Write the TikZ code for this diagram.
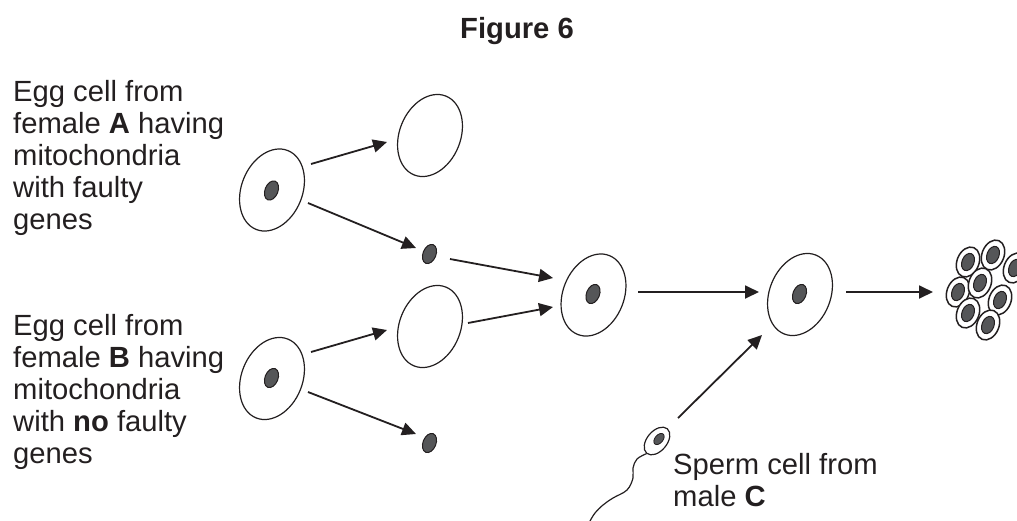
\documentclass[tikz,border=0pt]{standalone}
\usepackage{fontspec}
\setmainfont{Liberation Sans}
\usetikzlibrary{arrows.meta,shapes.geometric}
\definecolor{nuc}{RGB}{85,86,88}
\definecolor{ink}{RGB}{35,31,32}
\begin{document}
\begin{tikzpicture}[x=1pt,y=-1pt,
  lbl/.style={font=\fontsize{29.2}{32}\selectfont, inner sep=0pt, align=left, anchor=base west, text=ink},
  egg/.style={ellipse, draw=ink, line width=1.2pt, fill=white, minimum width=61pt, minimum height=85pt, inner sep=0pt, rotate=-22},
  nucleus/.style={ellipse, draw=ink, line width=1pt, fill=nuc, minimum width=13pt, minimum height=20pt, inner sep=0pt, rotate=-22},
  ccell/.style={ellipse, draw=ink, line width=1.5pt, fill=white, minimum width=22pt, minimum height=31pt, inner sep=0pt, rotate=-22},
  cnuc/.style={ellipse, draw=ink, line width=1pt, fill=nuc, minimum width=12pt, minimum height=18pt, inner sep=0pt, rotate=-22},
  arr/.style={draw=ink, line width=1.8pt, -{Triangle[length=14pt,width=13pt]}}
]
\useasboundingbox (0,0) rectangle (1017,520);

% title
\node[font=\bfseries\fontsize{29.2}{32}\selectfont, text=ink, inner sep=0pt, anchor=base] (title) at (517,38) {Figure 6};

% labels (anchored at the baseline of their last line)
\node[lbl] (labA) at (13,229.7) {Egg cell from\\female \textbf{A} having\\mitochondria\\with faulty\\genes};
\node[lbl] (labB) at (13,463) {Egg cell from\\female \textbf{B} having\\mitochondria\\with \textbf{no} faulty\\genes};
\node[lbl] (labC) at (673,506) {Sperm cell from\\male \textbf{C}};

% egg cell A and its parts
\node[egg] (eggA) at (272,190) {};
\node[nucleus] (nucA) at (271.5,190.5) {};
\node[egg] (emptyA) at (430,135.5) {};
\node[nucleus] (loneA) at (429.5,254) {};

% egg cell B and its parts
\node[egg] (eggB) at (272,378.5) {};
\node[nucleus] (nucB) at (271.5,378) {};
\node[egg] (emptyB) at (430,326.5) {};
\node[nucleus] (loneB) at (429.5,443) {};

% combined cell and fertilised cell
\node[egg] (mid) at (593.5,295) {};
\node[nucleus] (midn) at (593,294) {};
\node[egg] (zyg) at (800,294.5) {};
\node[nucleus] (zygn) at (799.5,294) {};

% embryo cluster
\foreach \i/\px/\py in {1/968/262, 2/993/255, 3/1015/268, 4/958/292, 5/980/283, 6/1000/300, 7/968/313, 8/988/325} {
  \node[ccell] (c\i) at (\px,\py) {};
  \node[cnuc] (cn\i) at (\px,\py) {};
}

% sperm
\node[ellipse, draw=ink, line width=1.2pt, fill=white, minimum width=32pt, minimum height=20pt, inner sep=0pt, rotate=50] (head) at (657,441) {};
\node[ellipse, draw=ink, line width=0.8pt, fill=nuc, minimum width=13pt, minimum height=8pt, inner sep=0pt, rotate=50] (headn) at (659,439) {};
\draw[ink, line width=1.2pt] plot[smooth, tension=0.6] coordinates {(head.west) (637,459) (633,468) (633,478) (627,490) (613,498) (603,505) (595,513) (590,521)};

% arrow end points
\coordinate (a1s) at (311,164);  \coordinate (a1e) at (387,142);
\coordinate (a2s) at (308,203);  \coordinate (a2e) at (416,248);
\coordinate (b1s) at (311,352);  \coordinate (b1e) at (387,330);
\coordinate (b2s) at (308,392);  \coordinate (b2e) at (416,434);
\coordinate (m1s) at (450,259);  \coordinate (m1e) at (553,278);
\coordinate (m2s) at (468,323);  \coordinate (m2e) at (553,307);
\coordinate (r1s) at (638,292);  \coordinate (r1e) at (759,292);
\coordinate (r2s) at (846,292);  \coordinate (r2e) at (933,292);
\coordinate (sps) at (678,418);  \coordinate (spe) at (762,335);

\draw[arr] (a1s) -- (a1e);
\draw[arr] (a2s) -- (a2e);
\draw[arr] (b1s) -- (b1e);
\draw[arr] (b2s) -- (b2e);
\draw[arr] (m1s) -- (m1e);
\draw[arr] (m2s) -- (m2e);
\draw[arr] (r1s) -- (r1e);
\draw[arr] (r2s) -- (r2e);
\draw[arr] (sps) -- (spe);
\end{tikzpicture}
\end{document}
